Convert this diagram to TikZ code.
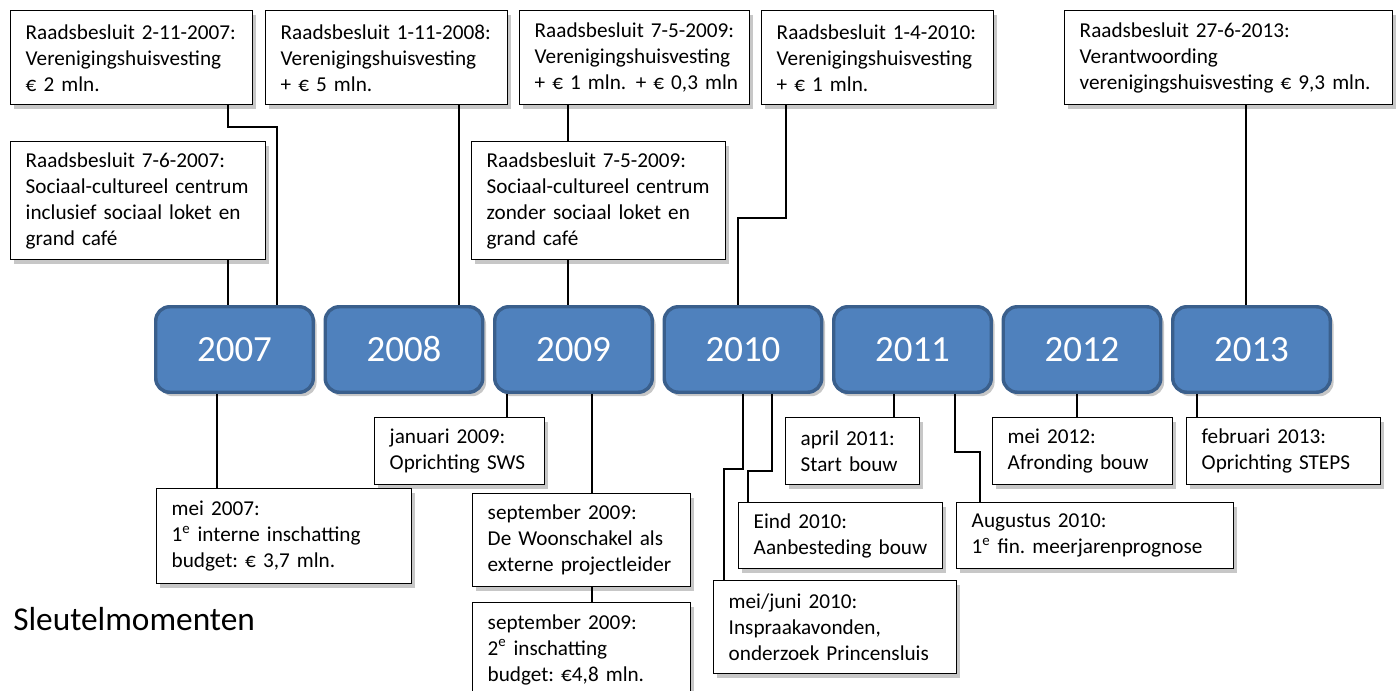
\documentclass[tikz,border=0pt]{standalone}
\usepackage{fontspec}
\setmainfont{Carlito}[WordSpace=0.9]
\usetikzlibrary{shadows}
\definecolor{yrfill}{HTML}{4F81BD}
\definecolor{yrline}{HTML}{3A5F8C}
\tikzset{
  tbox/.style={draw=black, line width=1.1pt, fill=white, inner xsep=0pt, inner ysep=0pt,
    align=left, anchor=north west, font=\fontsize{15.9}{19.5}\selectfont\frenchspacing,
    drop shadow={shadow xshift=2.5pt, shadow yshift=-3pt, opacity=0.22, fill=black}},
  ybox/.style={draw=yrline, line width=2.6pt, fill=yrfill, rounded corners=10.5pt,
    minimum width={157.5*0.75pt}, minimum height={85.5*0.75pt}, text=white,
    font=\fontsize{27.7}{33}\selectfont,
    drop shadow={shadow xshift=2.5pt, shadow yshift=-3pt, opacity=0.22, fill=black}},
  link/.style={draw=black, line width=1.05pt},
  title/.style={font=\fontsize{25}{30}\selectfont, anchor=base west, inner sep=0pt}
}
\newcommand\tbx[6]{\node[tbox, minimum width={#4*0.75pt}, minimum height={#5*0.75pt},
  text width={(#4-30)*0.75pt}] (#1) at (#2,#3) {#6};}
\begin{document}
\begin{tikzpicture}[x=0.75pt,y=-0.75pt]
\useasboundingbox (0,0) rectangle (1397,691);
% year boxes
\node[ybox] (Y7)  at (234.5,349.5) {2007};
\node[ybox] (Y8)  at (404,349.5) {2008};
\node[ybox] (Y9)  at (573.5,349.5) {2009};
\node[ybox] (Y10) at (743,349.5) {2010};
\node[ybox] (Y11) at (912.5,349.5) {2011};
\node[ybox] (Y12) at (1082,349.5) {2012};
\node[ybox] (Y13) at (1251.5,349.5) {2013};
% top boxes
\tbx{A1}{10}{10}{242}{94}{Raadsbesluit 2-11-2007:\\Verenigingshuisvesting\\€ 2 mln.}
\tbx{A2}{10}{141}{255}{118}{Raadsbesluit 7-6-2007:\\Sociaal-cultureel centrum\\inclusief sociaal loket en\\grand café}
\tbx{B}{265}{10}{242}{94}{Raadsbesluit 1-11-2008:\\Verenigingshuisvesting\\+ € 5 mln.}
\tbx{C1}{519}{10}{230}{94}{Raadsbesluit 7-5-2009:\\Verenigingshuisvesting\\\mbox{+ € 1 mln.\hspace{0.45em}+ € 0,3 mln}}
\tbx{C2}{471}{141}{254}{118}{Raadsbesluit 7-5-2009:\\Sociaal-cultureel centrum\\zonder sociaal loket en\\grand café}
\tbx{D}{761}{10}{232}{94}{Raadsbesluit 1-4-2010:\\Verenigingshuisvesting\\+ € 1 mln.}
\tbx{E}{1064}{10}{328}{94}{Raadsbesluit 27-6-2013:\\Verantwoording\\verenigingshuisvesting € 9,3 mln.}
% bottom boxes
\tbx{M7}{156}{488}{255}{95}{mei 2007:\\1\textsuperscript{e} interne inschatting\\budget: € 3,7 mln.}
\tbx{J9}{374}{417}{170}{67}{januari 2009:\\Oprichting SWS}
\tbx{S9a}{472}{493}{218}{93}{september 2009:\\De Woonschakel als\\externe projectleider}
\tbx{S9b}{472}{602}{218}{94}{september 2009:\\2\textsuperscript{e} inschatting\\budget: €4,8 mln.}
\tbx{A4}{785}{417}{134}{67}{april 2011:\\Start bouw}
\tbx{Ei}{738}{502}{204}{66}{Eind 2010:\\Aanbesteding bouw}
\tbx{Au}{956}{502}{277}{66}{Augustus 2010:\\1\textsuperscript{e} fin. meerjarenprognose}
\tbx{MJ}{713}{580}{243}{93}{mei/juni 2010:\\Inspraakavonden,\\onderzoek Princensluis}
\tbx{M12}{992}{417}{180}{67}{mei 2012:\\Afronding bouw}
\tbx{F13}{1186}{417}{194}{67}{februari 2013:\\Oprichting STEPS}
% title
\node[title] (T) at (13,630) {Sleutelmomenten};
% bend coordinates
\coordinate (k1) at (228,127);
\coordinate (k2) at (277,127);
\coordinate (k3) at (459,0);
\coordinate (k4) at (568,0);
\coordinate (k5) at (786,218);
\coordinate (k6) at (738,218);
\coordinate (k7) at (1246,0);
\coordinate (b1) at (217,0);
\coordinate (b2) at (507,0);
\coordinate (b3) at (592,0);
\coordinate (b4) at (743,469);
\coordinate (b5) at (724,469);
\coordinate (b6) at (772,471);
\coordinate (b7) at (748,471);
\coordinate (b8) at (894,0);
\coordinate (b9) at (955,452);
\coordinate (b10) at (980,452);
\coordinate (b11) at (1077,0);
\coordinate (b12) at (1197,0);
% top connectors
\draw[link] (A1.south -| k1) -- (k1) -- (k2) -- (Y7.north -| k2);
\draw[link] (A2.south -| k1) -- (Y7.north -| k1);
\draw[link] (B.south -| k3) -- (Y8.north -| k3);
\draw[link] (C1.south -| k4) -- (C2.north -| k4);
\draw[link] (C2.south -| k4) -- (Y9.north -| k4);
\draw[link] (D.south -| k5) -- (k5) -- (k6) -- (Y10.north -| k6);
\draw[link] (E.south -| k7) -- (Y13.north -| k7);
% bottom connectors
\draw[link] (Y7.south -| b1) -- (M7.north -| b1);
\draw[link] (Y9.south -| b2) -- (J9.north -| b2);
\draw[link] (Y9.south -| b3) -- (S9a.north -| b3);
\draw[link] (S9a.south -| b3) -- (S9b.north -| b3);
\draw[link] (Y10.south -| b4) -- (b4) -- (b5) -- (MJ.north -| b5);
\draw[link] (Y10.south -| b6) -- (b6) -- (b7) -- (Ei.north -| b7);
\draw[link] (Y11.south -| b8) -- (A4.north -| b8);
\draw[link] (Y11.south -| b9) -- (b9) -- (b10) -- (Au.north -| b10);
\draw[link] (Y12.south -| b11) -- (M12.north -| b11);
\draw[link] (Y13.south -| b12) -- (F13.north -| b12);
\end{tikzpicture}
\end{document}
